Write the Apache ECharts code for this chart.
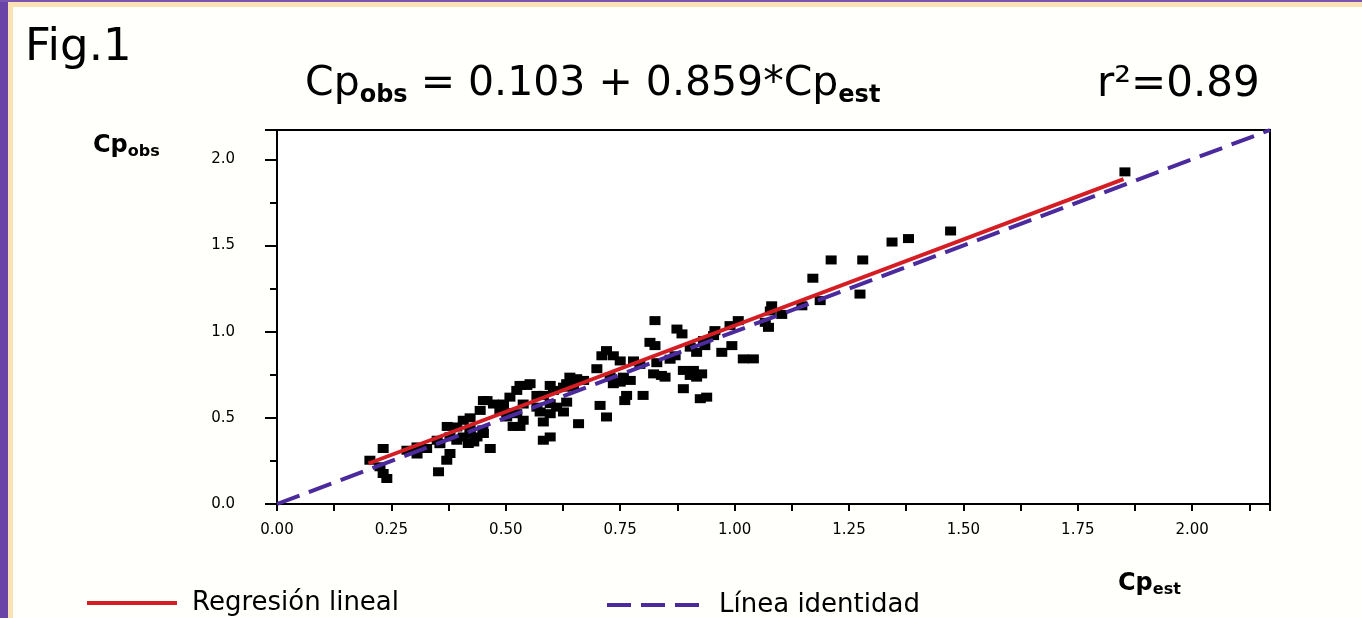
<!DOCTYPE html>
<html>
<head>
<meta charset="utf-8">
<script src="https://cdn.jsdelivr.net/npm/echarts@6/dist/echarts.min.js"></script>
<style>
  html, body { margin: 0; padding: 0; background: #fffffb; }
  #wrap { position: relative; width: 1362px; height: 618px; overflow: hidden; }
  #main { position: absolute; left: 0; top: 0; width: 1362px; height: 618px; }
  .bl { position: absolute; left: 0; top: 0; width: 8px; height: 618px; background: #6b44a8; }
  .bl2 { position: absolute; left: 8px; top: 0; width: 5px; height: 618px; background: #fbe2b4; }
  .bt { position: absolute; left: 0; top: 0; width: 1362px; height: 2px; background: #7a55b0; }
  .bt2 { position: absolute; left: 8px; top: 2px; width: 1354px; height: 5px; background: #fbe2b4; }
</style>
</head>
<body>
<div id="wrap">
  <div id="main"></div>
  <div class="bt2"></div><div class="bl2"></div>
  <div class="bl"></div><div class="bt"></div>
</div>
<script>
var cpEst = [
  0.546, 0.531, 0.524, 0.451, 0.473, 0.495, 0.444, 0.502, 0.524, 0.538,
  0.466, 0.407, 0.393, 0.422, 0.407, 0.418, 0.451, 0.437, 0.378, 0.371,
  0.353, 0.327, 0.306, 0.284, 0.232, 0.203, 0.225, 0.232, 0.240, 0.597,
  0.582, 0.459, 0.509, 0.487, 0.509, 0.538, 0.516, 0.531, 0.422, 0.422,
  0.450, 0.430, 0.378, 0.393, 0.372, 0.356, 0.350, 0.306,
  0.826, 0.874, 0.885, 0.815, 0.826, 0.720, 0.710, 0.735, 0.750, 0.779,
  0.793, 0.699, 0.830, 0.859, 0.870, 0.903, 0.917, 0.888, 0.910, 0.903,
  0.917, 0.840, 0.848, 0.823, 0.757, 0.772, 0.750, 0.728, 0.735, 0.764,
  0.760, 0.800, 0.888, 0.925, 0.939, 0.706, 0.720, 0.659, 0.640, 0.655,
  0.670, 0.633, 0.626, 0.648, 0.597, 0.604, 0.582, 0.568, 0.597, 0.611,
  0.633, 0.568, 0.575, 0.597, 0.626, 0.582, 0.553,
  0.928, 1.344, 1.380, 1.472, 1.853, 1.211, 1.280, 1.171, 1.274, 1.187,
  1.147, 1.081, 1.078, 1.103, 1.074, 1.067, 1.008, 0.990, 0.957, 0.954,
  0.932, 0.935, 0.994, 0.972, 1.019, 1.041
];
var cpObs = [
  0.688, 0.688, 0.659, 0.600, 0.580, 0.580, 0.543, 0.505, 0.524, 0.486,
  0.322, 0.486, 0.447, 0.437, 0.389, 0.351, 0.409, 0.389, 0.293, 0.254,
  0.187, 0.322, 0.331, 0.312, 0.322, 0.254, 0.216, 0.177, 0.148, 0.389,
  0.370, 0.600, 0.620, 0.540, 0.530, 0.580, 0.450, 0.450, 0.500, 0.410,
  0.430, 0.360, 0.390, 0.370, 0.450, 0.350, 0.370, 0.290,
  1.064, 1.015, 0.987, 0.938, 0.919, 0.890, 0.860, 0.860, 0.830, 0.830,
  0.810, 0.785, 0.820, 0.840, 0.860, 0.910, 0.880, 0.775, 0.775, 0.746,
  0.736, 0.746, 0.736, 0.755, 0.736, 0.717, 0.707, 0.736, 0.698, 0.630,
  0.600, 0.630, 0.669, 0.611, 0.620, 0.572, 0.505, 0.466, 0.736, 0.727,
  0.717, 0.698, 0.678, 0.678, 0.688, 0.659, 0.630, 0.630, 0.582, 0.562,
  0.591, 0.562, 0.534, 0.524, 0.534, 0.476, 0.698,
  0.755, 1.520, 1.540, 1.584, 1.927, 1.416, 1.416, 1.310, 1.218, 1.180,
  1.150, 1.150, 1.120, 1.100, 1.025, 1.054, 1.064, 1.035, 1.006, 0.977,
  0.948, 0.919, 0.919, 0.880, 0.842, 0.842
];
// extremos de las rectas
var regLine = [[0.20, 0.235], [1.85, 1.885]];
var idLine = [[0, 0], [2.17, 2.17]];

var points = cpEst.map(function (x, i) { return [x, cpObs[i]] });

var myChart = echarts.init(document.getElementById('main'));
var labelFont = { color: '#000', fontSize: 15, fontFamily: 'DejaVu Sans' };
var subStyle = { fontWeight: 'bold', fontFamily: 'DejaVu Sans' };

var option = {
  backgroundColor: '#fffffb',
  animation: false,
  grid: {
    left: 277, top: 130, right: 92, bottom: 114,
    show: true, borderColor: '#000', borderWidth: 2, backgroundColor: '#fff'
  },
  xAxis: {
    type: 'value', min: 0, max: 2.17, interval: 0.25,
    axisLine: { lineStyle: { color: '#000', width: 2 } },
    axisTick: { length: 7, lineStyle: { color: '#000', width: 2 } },
    minorTick: { show: true, splitNumber: 2, length: 7, lineStyle: { color: '#000', width: 2 } },
    splitLine: { show: false },
    axisLabel: Object.assign({ margin: 19, showMaxLabel: false,
      formatter: function (v) { return v.toFixed(2) } }, labelFont)
  },
  yAxis: {
    type: 'value', min: 0, max: 2.17, interval: 0.5,
    axisLine: { lineStyle: { color: '#000', width: 2 } },
    axisTick: { length: 12, lineStyle: { color: '#000', width: 2 } },
    minorTick: { show: true, splitNumber: 2, length: 7, lineStyle: { color: '#000', width: 2 } },
    splitLine: { show: false },
    axisLabel: Object.assign({ margin: 42, showMaxLabel: false,
      formatter: function (v) { return v.toFixed(1) } }, labelFont)
  },
  legend: [
    {
      left: 80, top: 585, itemWidth: 90, itemHeight: 2,
      itemStyle: { opacity: 0 },
      lineStyle: { width: 4 },
      data: ['Regresión lineal'],
      textStyle: { fontSize: 26, fontFamily: 'DejaVu Sans', color: '#000', padding: [0, 0, 0, 10] }
    },
    {
      left: 600, top: 587, itemWidth: 95, itemHeight: 2,
      itemStyle: { opacity: 0 },
      lineStyle: { width: 4 },
      data: ['Línea identidad'],
      textStyle: { fontSize: 26, fontFamily: 'DejaVu Sans', color: '#000', padding: [0, 0, 0, 12] }
    }
  ],
  graphic: [
    { type: 'text', left: 25, top: 26,
      style: { text: 'Fig.1', fontSize: 45, fontFamily: 'DejaVu Sans', fill: '#000' } },
    { type: 'text', left: 305, top: 64,
      style: {
        text: 'Cp{s|obs} = 0.103 + 0.859*Cp{s|est}',
        fontSize: 41, fontFamily: 'DejaVu Sans', fill: '#000',
        rich: { s: Object.assign({ fontSize: 24, padding: [22, 0, 0, 0] }, subStyle) }
      } },
    { type: 'text', left: 1097, top: 64,
      style: { text: 'r²=0.89', fontSize: 42, fontFamily: 'DejaVu Sans', fill: '#000' } },
    { type: 'text', left: 93, top: 134,
      style: {
        text: 'Cp{s|obs}', fontSize: 24, fontWeight: 'bold', fontFamily: 'DejaVu Sans', fill: '#000',
        rich: { s: Object.assign({ fontSize: 16, padding: [12, 0, 0, 0] }, subStyle) }
      } },
    { type: 'text', left: 1118, top: 572,
      style: {
        text: 'Cp{s|est}', fontSize: 24, fontWeight: 'bold', fontFamily: 'DejaVu Sans', fill: '#000',
        rich: { s: Object.assign({ fontSize: 16, padding: [12, 0, 0, 0] }, subStyle) }
      } }
  ],
  series: [
    {
      name: 'Datos',
      type: 'scatter',
      symbol: 'rect',
      symbolSize: [11, 9],
      itemStyle: { color: '#000', opacity: 1 },
      data: points,
      z: 2
    },
    {
      name: 'Regresión lineal',
      type: 'line',
      symbol: 'none',
      lineStyle: { color: '#d41e24', width: 4 },
      itemStyle: { color: '#d41e24' },
      data: regLine,
      z: 3
    },
    {
      name: 'Línea identidad',
      type: 'line',
      symbol: 'none',
      lineStyle: { color: '#4a2a9c', width: 4, type: [24, 10] },
      itemStyle: { color: '#4a2a9c' },
      data: idLine,
      z: 4
    }
  ]
};
myChart.setOption(option);
</script>
</body>
</html>
